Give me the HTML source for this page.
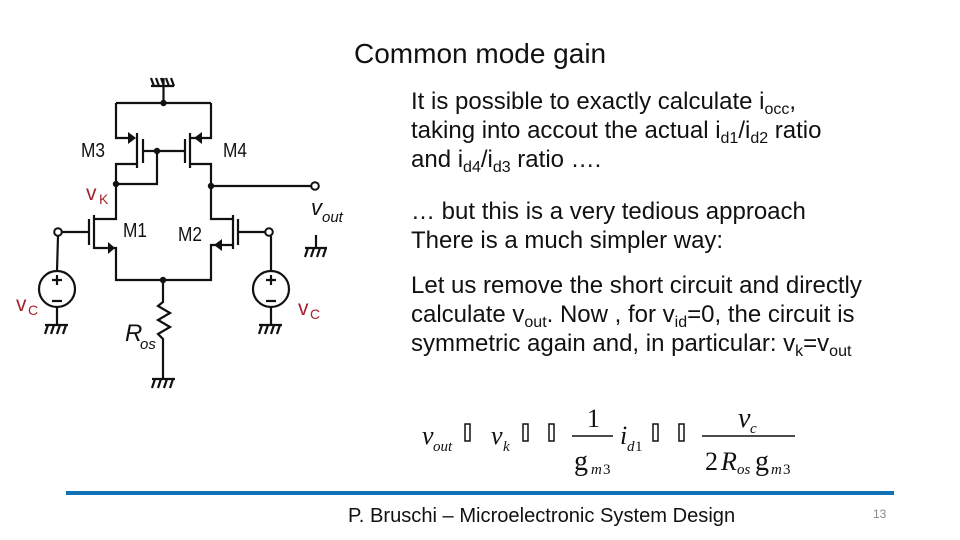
<!DOCTYPE html>
<html><head><meta charset="utf-8"><style>
html,body{margin:0;padding:0;background:#fff}
svg{display:block}
text{font-family:"Liberation Sans",sans-serif;fill:#111}
.b{font-size:24px}
.s{font-size:16px}
.r{font-family:"Liberation Serif",serif;font-style:italic}
.n{font-family:"Liberation Serif",serif}
.w{fill:none;stroke:#111;stroke-width:2.200}
.red{fill:#a5232e}
</style></head><body>
<svg width="960" height="540" viewBox="0 0 960 540" xmlns="http://www.w3.org/2000/svg">
<rect width="960" height="540" fill="#fff"/>
<text x="354" y="63" font-size="28">Common mode gain</text>

<g class="w">
<path d="M163.500 78V103M151 86H174M154 86l-3-8M159 86l-3-8M164 86l-3-8M169 86l-3-8M174 86l-3-8"/>
<path d="M116 103H211"/>
<path d="M116 103V138H130M137 133V168M143 139V163M143 151H185M157 151V184H116M137 164H116V219H94M94 215V249M89 219V245M58 232H89M94 248H116V280H211V245H233"/>
<path d="M185 139V163M190 133V168M190 138H211V103M190 164H211V219H233M233 215V249M238 219V245M238 232H265M211 186H311"/>
<path d="M58 236 57 271M57 307V325M45 325H68M48 325l-3 9M54 325l-3 9M60 325l-3 9M66 325l-3 9"/>
<circle cx="57" cy="289" r="18"/>
<path d="M52 280H62M57 275V285M52 301H62"/>
<path d="M271 236V271M271 307V325M259 325H282M262 325l-3 9M268 325l-3 9M274 325l-3 9M280 325l-3 9"/>
<circle cx="271" cy="289" r="18"/>
<path d="M266 280H276M271 275V285M266 301H276"/>
<path d="M316 235V248M305 248H327M308 248l-3 9M314 248l-3 9M320 248l-3 9M326 248l-3 9"/>
<path d="M163 280V302L158 306 170 313 158 320 170 327 158 334 163 339V379M152 379H175M155 379l-3 9M161 379l-3 9M167 379l-3 9M173 379l-3 9"/>
</g>
<g fill="#fff" stroke="#111" stroke-width="2">
<circle cx="315" cy="186" r="3.800"/><circle cx="58" cy="232" r="3.800"/><circle cx="269" cy="232" r="3.800"/>
</g>
<g fill="#111">
<circle cx="163.500" cy="103" r="3.200"/><circle cx="157" cy="151" r="3.200"/><circle cx="116" cy="184" r="3.200"/><circle cx="211" cy="186" r="3.200"/><circle cx="163" cy="280" r="3.200"/>
<path d="M128 132 136 138 128 144Z"/><path d="M202 132 194 138 202 144Z"/>
<path d="M108 242 115 248 108 254Z"/><path d="M222 239 214 245 222 251Z"/>
</g>
<g font-size="20.500">
<text x="81" y="157" textLength="24" lengthAdjust="spacingAndGlyphs">M3</text>
<text x="223" y="157" textLength="24" lengthAdjust="spacingAndGlyphs">M4</text>
<text x="123" y="237" textLength="24" lengthAdjust="spacingAndGlyphs">M1</text>
<text x="178" y="241" textLength="24" lengthAdjust="spacingAndGlyphs">M2</text>
</g>
<text x="311" y="215" font-size="22" font-style="italic">v</text>
<text x="322" y="222" font-size="15" font-style="italic">out</text>
<text x="125" y="341" font-size="24" font-style="italic">R</text>
<text x="140" y="349" font-size="15" font-style="italic">os</text>

<text x="86" y="200" font-size="21" class="red">v</text><text x="99" y="204" font-size="14" class="red">K</text>
<text x="16" y="311" font-size="21" class="red">v</text><text x="28" y="315" font-size="14" class="red">C</text>
<text x="298" y="315" font-size="21" class="red">v</text><text x="310" y="319" font-size="14" class="red">C</text>

<text class="b" x="411" y="109">It is possible to exactly calculate i<tspan class="s" dy="5">occ</tspan><tspan dy="-5">,</tspan></text>
<text class="b" x="411" y="138">taking into accout the actual i<tspan class="s" dy="5">d1</tspan><tspan dy="-5">/i</tspan><tspan class="s" dy="5">d2</tspan><tspan dy="-5"> ratio</tspan></text>
<text class="b" x="411" y="167">and i<tspan class="s" dy="5">d4</tspan><tspan dy="-5">/i</tspan><tspan class="s" dy="5">d3</tspan><tspan dy="-5"> ratio ….</tspan></text>
<text class="b" x="411" y="219">… but this is a very tedious approach</text>
<text class="b" x="411" y="248">There is a much simpler way:</text>
<text class="b" x="411" y="293">Let us remove the short circuit and directly</text>
<text class="b" x="411" y="322">calculate v<tspan class="s" dy="5">out</tspan><tspan dy="-5">. Now , for v</tspan><tspan class="s" dy="5">id</tspan><tspan dy="-5">=0, the circuit is</tspan></text>
<text class="b" x="411" y="351">symmetric again and, in particular: v<tspan class="s" dy="5">k</tspan><tspan dy="-5">=v</tspan><tspan class="s" dy="5">out</tspan></text>

<g>
<text class="r" x="422" y="444" font-size="26">v</text><text class="r" x="433" y="451" font-size="15">out</text>
<text class="r" x="491" y="444" font-size="26">v</text><text class="r" x="503" y="451" font-size="15">k</text>
<text class="n" x="587" y="427" font-size="26">1</text>
<text class="n" x="574" y="470" font-size="28">g</text><text class="r" x="591" y="474" font-size="15">m</text><text class="n" x="603" y="474" font-size="15">3</text>
<text class="r" x="620" y="444" font-size="26">i</text><text class="r" x="627" y="451" font-size="15">d</text><text class="n" x="635" y="451" font-size="15">1</text>
<text class="r" x="738" y="427" font-size="28">v</text><text class="r" x="750" y="433" font-size="15">c</text>
<text class="n" x="705" y="470" font-size="26">2</text><text class="r" x="721" y="470" font-size="26">R</text><text class="r" x="737" y="474" font-size="15">os</text>
<text class="n" x="755" y="470" font-size="28">g</text><text class="r" x="771" y="474" font-size="15">m</text><text class="n" x="783" y="474" font-size="15">3</text>
</g>
<g fill="none" stroke="#111" stroke-width="1.500">
<rect x="465" y="424" width="5" height="17"/><rect x="523" y="424" width="5" height="17"/><rect x="549" y="424" width="5" height="17"/>
<rect x="653" y="424" width="5" height="17"/><rect x="679" y="424" width="5" height="17"/>
<path d="M572 436H613M702 436H795"/>
</g>

<rect x="66" y="491" width="828" height="4" fill="#0f70b7"/>
<text x="348" y="522" font-size="20.100">P. Bruschi – Microelectronic System Design</text>
<text x="873" y="518" font-size="12" style="fill:#888">13</text>
</svg>
</body></html>
